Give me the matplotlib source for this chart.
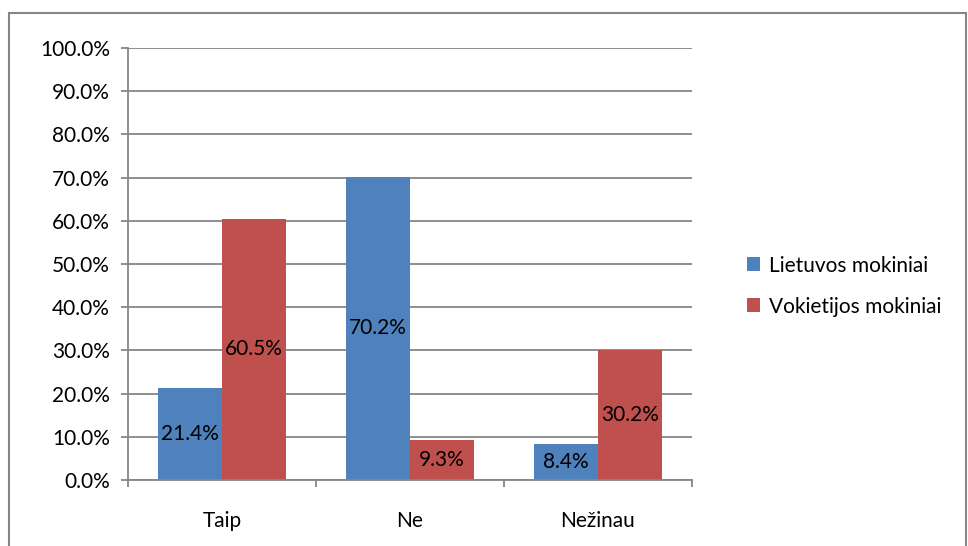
import numpy as np
import matplotlib.pyplot as plt
from matplotlib.patches import Rectangle
from matplotlib.ticker import FixedLocator, FuncFormatter

# Duomenys
categories = ["Taip", "Ne", "Nežinau"]
series_names = ["Lietuvos mokiniai", "Vokietijos mokiniai"]
lietuvos = [21.4, 70.2, 8.4]
vokietijos = [60.5, 9.3, 30.2]
colors = ["#4F81BD", "#C0504D"]

plt.rcParams["font.family"] = ["Lato", "DejaVu Sans"]
fs = 15

fig = plt.figure(figsize=(9.68, 5.46), dpi=100)
ax = fig.add_axes([128 / 968, 1 - 480 / 546, 564 / 968, 432 / 546])

# rėmelis aplink diagramą
fig.patches.append(Rectangle((9 / 968, -0.1), 957 / 968, 1 - 13 / 546 + 0.1,
                             transform=fig.transFigure, fill=False,
                             edgecolor="#868686", linewidth=1.5))

x = np.arange(len(categories))
w = 0.34
b1 = ax.bar(x - w / 2, lietuvos, w, color=colors[0], label=series_names[0])
b2 = ax.bar(x + w / 2, vokietijos, w, color=colors[1], label=series_names[1])

for bars, vals in ((b1, lietuvos), (b2, vokietijos)):
    for bar, v in zip(bars, vals):
        ax.text(bar.get_x() + bar.get_width() / 2, v / 2, f"{v:.1f}%",
                ha="center", va="center", fontsize=fs, color="black")

ax.set_xlim(-0.5, 2.5)
ax.set_ylim(0, 100)
ax.set_yticks(np.arange(0, 101, 10))
ax.yaxis.set_major_formatter(FuncFormatter(lambda v, p: f"{v:.1f}%"))
ax.grid(axis="y", color="#868686", linewidth=1.3)
ax.set_axisbelow(True)

ax.xaxis.set_major_locator(FixedLocator([-0.5, 0.5, 1.5, 2.5]))
ax.xaxis.set_major_formatter(FuncFormatter(lambda v, p: ""))
ax.xaxis.set_minor_locator(FixedLocator(x))
ax.set_xticklabels(categories, minor=True)
ax.tick_params(axis="x", which="minor", length=0, pad=22, labelsize=fs)
ax.tick_params(axis="x", which="major", length=5, color="#868686", width=1.3)
ax.tick_params(axis="y", length=5, color="#868686", width=1.3, pad=8, labelsize=fs)

for s in ("top", "right"):
    ax.spines[s].set_visible(False)
for s in ("left", "bottom"):
    ax.spines[s].set_color("#868686")
    ax.spines[s].set_linewidth(1.3)

fig.legend(loc="upper left", bbox_to_anchor=(728 / 968, 1 - 237 / 546),
           frameon=False, fontsize=fs, handlelength=0.65, handleheight=0.65,
           handletextpad=0.4, labelspacing=1.0)

fig.savefig("out.png", dpi=100)
